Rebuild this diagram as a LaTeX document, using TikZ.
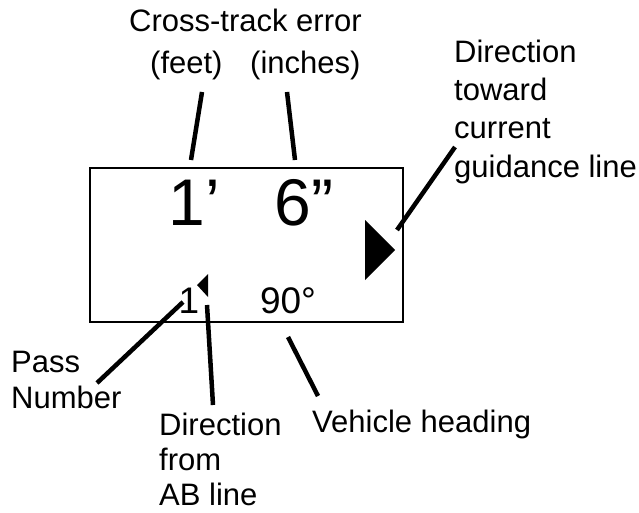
\documentclass[tikz,border=0pt]{standalone}
\usepackage{fontspec}
\setmainfont{Liberation Sans}
\usetikzlibrary{positioning}

\begin{document}
\begin{tikzpicture}[x=1pt, y=-1pt,
  lbl/.style={anchor=base west, inner sep=0pt, align=left, font=\fontsize{31}{36}\selectfont},
  bigread/.style={anchor=base, inner sep=0pt, font=\fontsize{66}{70}\selectfont},
  smallread/.style={anchor=base, inner sep=0pt, font=\fontsize{37}{40}\selectfont},
  lead/.style={line width=4.5pt},
  screen/.style={draw, line width=2pt}]
  \useasboundingbox (0,0) rectangle (639,513);
  % display
  \draw[screen] (90,168) rectangle (403,322);
  \node[bigread] (feet) at (194,225) {1’};
  \node[bigread] (inch) at (304,225) {6”};
  \node[smallread] (pass) at (189,313) {1};
  \node[smallread] (head) at (288,313) {90°};
  \fill (365,220) -- (395,250) -- (365,280) -- cycle;
  \fill (208,274) -- (197,285) -- (208,297) -- cycle;
  % labels (multi-line ones sit on their last baseline)
  \node[lbl] (xtrack) at (129,32) {Cross-track error};
  \node[lbl] (feetlbl) at (150,74) {(feet)};
  \node[lbl] (inchlbl) at (250,74) {(inches)};
  \node[lbl, font=\fontsize{31}{38}\selectfont] (guidelbl) at (454,177) {Direction\\toward\\current\\guidance line};
  \node[lbl] (passlbl) at (11,408) {Pass\\Number};
  \node[lbl, font=\fontsize{31}{35}\selectfont] (ablbl) at (159,505) {Direction\\from\\AB line};
  \node[lbl] (headlbl) at (312,432) {Vehicle heading};
  % leader ends
  \coordinate (feet-a) at (202,92);
  \coordinate (feet-b) at (191,160);
  \coordinate (inch-a) at (287,92);
  \coordinate (inch-b) at (295,160);
  \coordinate (guide-a) at (455,147);
  \coordinate (guide-b) at (397,230);
  \coordinate (pass-a) at (97,383);
  \coordinate (pass-b) at (183,302);
  \coordinate (ab-a) at (213,405);
  \coordinate (ab-b) at (207,305);
  \coordinate (head-a) at (318,396);
  \coordinate (head-b) at (288,337);
  \draw[lead] (feet-a) -- (feet-b);
  \draw[lead] (inch-a) -- (inch-b);
  \draw[lead] (guide-a) -- (guide-b);
  \draw[lead] (pass-a) -- (pass-b);
  \draw[lead] (ab-a) -- (ab-b);
  \draw[lead] (head-a) -- (head-b);
\end{tikzpicture}
\end{document}
